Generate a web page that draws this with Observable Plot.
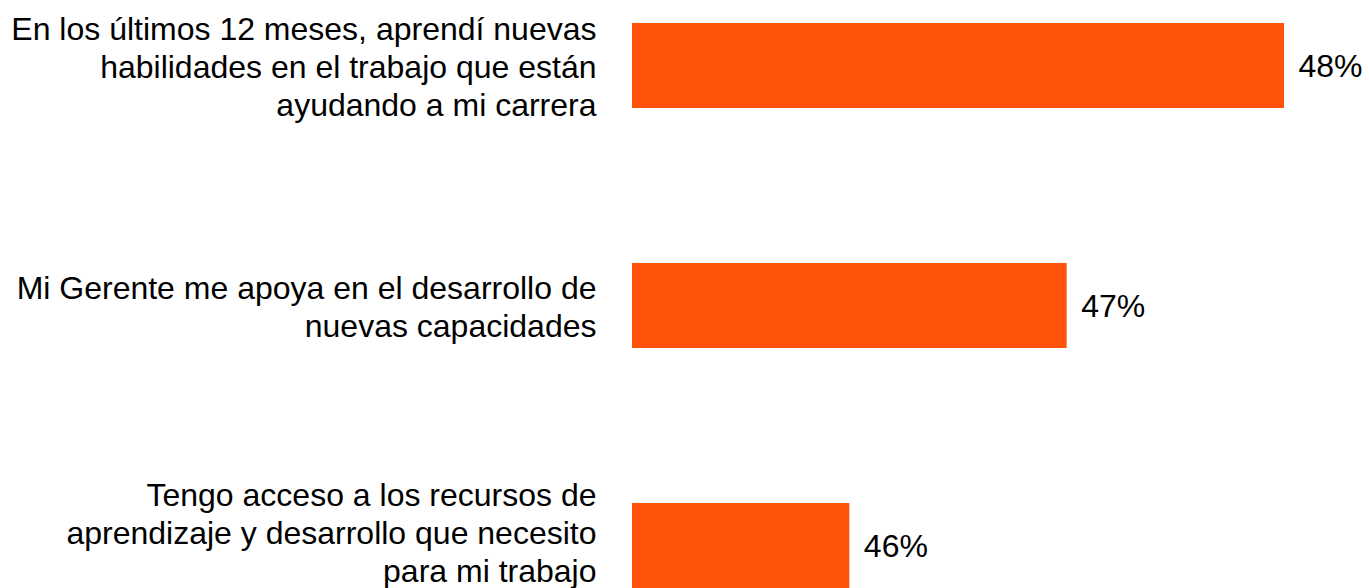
<!DOCTYPE html>
<html>
<head>
<meta charset="utf-8">
<script src="https://cdn.jsdelivr.net/npm/d3@7"></script>
<script src="https://cdn.jsdelivr.net/npm/@observablehq/plot@0.6"></script>
<style>
  html, body { margin: 0; padding: 0; background: #fff; }
  svg { display: block; }
</style>
</head>
<body>
<div id="chart"></div>
<script>
const categories = [
  "En los últimos 12 meses, aprendí nuevas\nhabilidades en el trabajo que están\nayudando a mi carrera",
  "Mi Gerente me apoya en el desarrollo de\nnuevas capacidades",
  "Tengo acceso a los recursos de\naprendizaje y desarrollo que necesito\npara mi trabajo"
];
const values = [48, 47, 46];
const valueLabels = ["48%", "47%", "46%"];
const xDomain = [45, 48];

const data = categories.map((c, i) => ({ cat: c, value: values[i], label: valueLabels[i], i }));
const lastIndex = categories.length - 1;

const labelStyle = { y: "cat", x: () => xDomain[0], text: "cat", textAnchor: "end", dx: -36, fontSize: 32, lineHeight: 1.18, fill: "#000" };

const chart = Plot.plot({
  width: 1369,
  height: 588,
  marginLeft: 632,
  marginRight: 85,
  marginTop: 22,
  marginBottom: 0,
  style: { fontFamily: "'Liberation Sans', Arial, sans-serif", background: "#fff" },
  x: { domain: xDomain, axis: null },
  y: { domain: categories, axis: null, paddingInner: 0.6466, paddingOuter: 0 },
  marks: [
    Plot.barX(data, { y: "cat", x1: () => xDomain[0], x2: "value", fill: "#FF520A" }),
    Plot.text(data.filter(d => d.i !== lastIndex), { ...labelStyle, dy: 0 }),
    Plot.text(data.filter(d => d.i === lastIndex), { ...labelStyle, dy: -14 }),
    Plot.text(data, { y: "cat", x: "value", text: "label", textAnchor: "start", dx: 14, dy: 1, fontSize: 32, fill: "#000" })
  ]
});
document.getElementById("chart").appendChild(chart);
</script>
</body>
</html>
